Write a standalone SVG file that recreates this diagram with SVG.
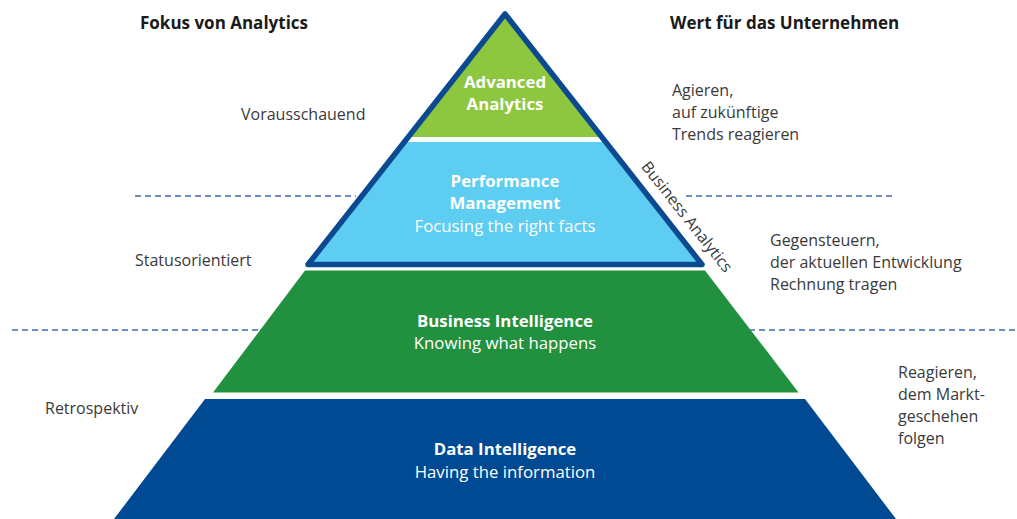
<svg xmlns="http://www.w3.org/2000/svg" width="1017" height="519" viewBox="0 0 1017 519">
  <defs>
    <style>
      .head { font-family: "Open Sans", "Noto Sans", sans-serif; font-size: 17px; font-weight: bold; fill: #1a1a1a; }
      .side { font-family: "Open Sans", "Noto Sans", sans-serif; font-size: 16px; fill: #3a3a3a; }
      .title { font-family: "Open Sans", "Noto Sans", sans-serif; font-size: 16.8px; font-weight: bold; fill: #ffffff; text-anchor: middle; }
      .sub { font-family: "Open Sans", "Noto Sans", sans-serif; font-size: 16.8px; fill: #ffffff; text-anchor: middle; }
      .guide { stroke: #3a6dae; stroke-width: 1.3; stroke-dasharray: 6 4; fill: none; }
    </style>
  </defs>
  <rect width="1017" height="519" fill="#ffffff"/>

  <!-- dashed level separators -->
  <g id="guides">
    <line class="guide" x1="135" y1="196" x2="356" y2="196"/>
    <line class="guide" x1="686" y1="196" x2="896" y2="196"/>
    <line class="guide" x1="12" y1="330" x2="262" y2="330"/>
    <line class="guide" x1="749" y1="330" x2="1017" y2="330"/>
  </g>

  <!-- base layer -->
  <g id="data-intelligence">
    <polygon points="205,399 805,399 896,519 114,519" fill="#004a93"/>
    <text class="title" x="505" y="455">Data Intelligence</text>
    <text class="sub" x="505" y="478">Having the information</text>
  </g>

  <g id="business-intelligence">
    <polygon points="305,270.5 705,270.5 798.5,392.5 213,392.5" fill="#21903f"/>
    <text class="title" x="505" y="327">Business Intelligence</text>
    <text class="sub" x="505" y="349">Knowing what happens</text>
  </g>

  <!-- outlined top triangle: Business Analytics -->
  <g id="business-analytics">
    <polygon points="505,14 601.4,137 605.3,142 404.7,142 408.6,137" fill="#ffffff"/>
    <g id="performance-management">
      <polygon points="404.7,142 605.3,142 702,264.5 308,264.5" fill="#5ecdf2"/>
      <text class="title" x="505" y="187">Performance</text>
      <text class="title" x="505" y="209">Management</text>
      <text class="sub" x="505" y="232">Focusing the right facts</text>
    </g>
    <g id="advanced-analytics">
      <polygon points="505,14 601.4,137 408.6,137" fill="#8dc63f"/>
      <text class="title" x="505" y="88">Advanced</text>
      <text class="title" x="505" y="110">Analytics</text>
    </g>
    <polygon points="505,14 702,264.5 308,264.5" fill="none" stroke="#0b4a90" stroke-width="5.5" stroke-linejoin="round"/>
    <text class="side" transform="translate(686.5,217) rotate(51.7)" text-anchor="middle" y="5" font-size="17">Business Analytics</text>
  </g>

  <!-- column headings -->
  <g id="headings">
    <text class="head" x="140" y="29">Fokus von Analytics</text>
    <text class="head" x="670" y="29">Wert für das Unternehmen</text>
  </g>

  <!-- focus labels -->
  <g id="focus">
    <text class="side" x="241" y="120">Vorausschauend</text>
    <text class="side" x="135" y="266">Statusorientiert</text>
    <text class="side" x="45" y="414">Retrospektiv</text>
  </g>

  <!-- value labels -->
  <g id="value">
    <text class="side" x="672" y="96">Agieren,</text>
    <text class="side" x="672" y="118">auf zukünftige</text>
    <text class="side" x="672" y="140">Trends reagieren</text>
    <text class="side" x="770" y="246">Gegensteuern,</text>
    <text class="side" x="770" y="268">der aktuellen Entwicklung</text>
    <text class="side" x="770" y="290">Rechnung tragen</text>
    <text class="side" x="898" y="378">Reagieren,</text>
    <text class="side" x="898" y="400">dem Markt-</text>
    <text class="side" x="898" y="422">geschehen</text>
    <text class="side" x="898" y="444">folgen</text>
  </g>
</svg>
